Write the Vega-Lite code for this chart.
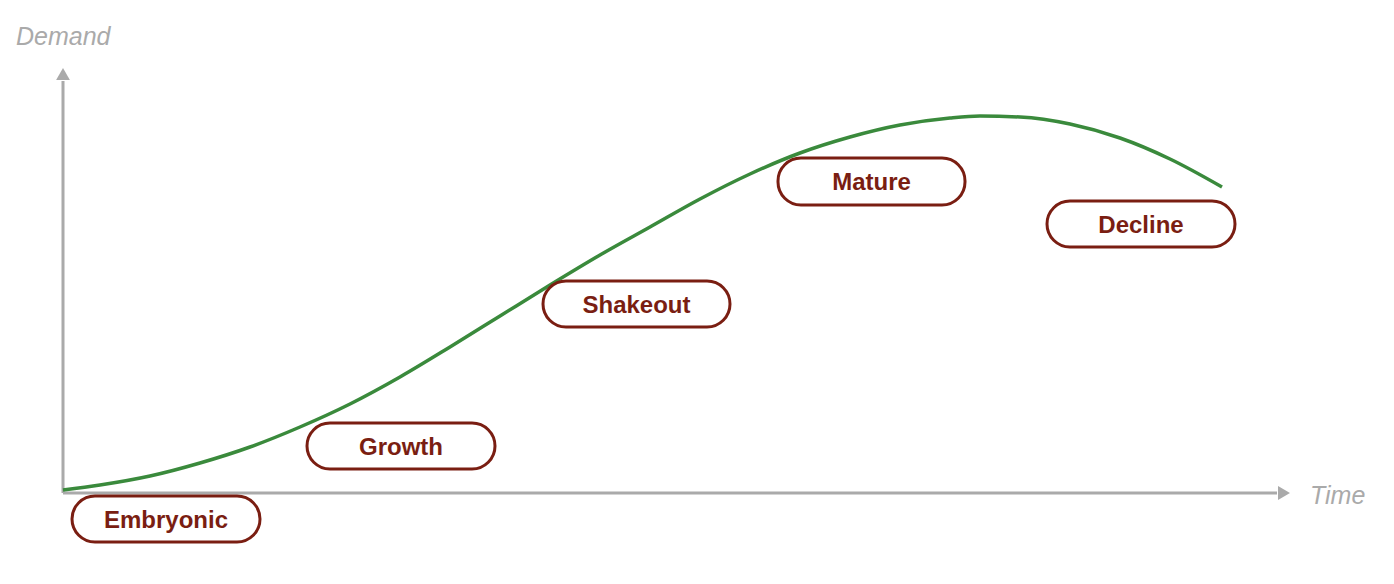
{
  "$schema": "https://vega.github.io/schema/vega-lite/v6.json",
  "width": 1394,
  "height": 584,
  "autosize": {"type": "fit", "contains": "padding"},
  "padding": 0,
  "background": "white",
  "config": {"view": {"stroke": null}},
  "datasets": {
    "curve": [
      {"t": 0, "d": 3}, {"t": 37, "d": 8}, {"t": 87, "d": 17}, {"t": 137, "d": 30},
      {"t": 187, "d": 46}, {"t": 237, "d": 66}, {"t": 287, "d": 89}, {"t": 337, "d": 116},
      {"t": 387, "d": 146}, {"t": 437, "d": 177}, {"t": 487, "d": 208}, {"t": 537, "d": 238},
      {"t": 587, "d": 266}, {"t": 637, "d": 294}, {"t": 687, "d": 319}, {"t": 737, "d": 340},
      {"t": 787, "d": 356}, {"t": 837, "d": 368}, {"t": 887, "d": 375}, {"t": 917, "d": 377},
      {"t": 957, "d": 376}, {"t": 1007, "d": 369}, {"t": 1057, "d": 355}, {"t": 1107, "d": 334},
      {"t": 1159, "d": 306}
    ],
    "axes": [
      {"name": "y", "x1": 0, "y1": 0, "x2": 0, "y2": 412},
      {"name": "x", "x1": 0, "y1": 0, "x2": 1214, "y2": 0}
    ],
    "arrows": [
      {"name": "y", "x": 0, "y": 419, "shape": "triangle-up"},
      {"name": "x", "x": 1221, "y": 0, "shape": "triangle-right"}
    ],
    "axisLabels": [
      {"label": "Demand", "x": -47, "y": 456},
      {"label": "Time", "x": 1247, "y": -3}
    ],
    "stages": [
      {"stage": "Embryonic", "x1": 9, "x2": 197, "y1": -49, "y2": -3, "cx": 103, "cy": -26},
      {"stage": "Growth", "x1": 244, "x2": 432, "y1": 24, "y2": 70, "cx": 338, "cy": 47},
      {"stage": "Shakeout", "x1": 480, "x2": 667, "y1": 166, "y2": 212, "cx": 573.5, "cy": 189},
      {"stage": "Mature", "x1": 715, "x2": 902, "y1": 288, "y2": 335, "cx": 808.5, "cy": 311.5},
      {"stage": "Decline", "x1": 984, "x2": 1172, "y1": 246, "y2": 292, "cx": 1078, "cy": 269}
    ]
  },
  "layer": [
    {
      "data": {"name": "axes"},
      "mark": {"type": "rule", "color": "#aaaaaa", "strokeWidth": 3},
      "encoding": {
        "x": {"field": "x1", "type": "quantitative", "scale": {"domain": [-63, 1331], "nice": false, "zero": false}, "axis": null},
        "y": {"field": "y1", "type": "quantitative", "scale": {"domain": [-91, 493], "nice": false, "zero": false}, "axis": null},
        "x2": {"field": "x2"},
        "y2": {"field": "y2"}
      }
    },
    {
      "data": {"name": "arrows"},
      "mark": {"type": "point", "filled": true, "color": "#aaaaaa", "opacity": 1, "size": 190},
      "encoding": {
        "x": {"field": "x", "type": "quantitative"},
        "y": {"field": "y", "type": "quantitative"},
        "shape": {"field": "shape", "type": "nominal", "scale": null}
      }
    },
    {
      "data": {"name": "axisLabels"},
      "mark": {"type": "text", "align": "left", "baseline": "middle", "font": "Liberation Sans", "fontStyle": "italic", "fontSize": 25, "color": "#aaaaaa"},
      "encoding": {
        "x": {"field": "x", "type": "quantitative"},
        "y": {"field": "y", "type": "quantitative"},
        "text": {"field": "label"}
      }
    },
    {
      "data": {"name": "curve"},
      "mark": {"type": "line", "interpolate": "monotone", "color": "#3a8a3c", "strokeWidth": 3.5},
      "encoding": {
        "x": {"field": "t", "type": "quantitative"},
        "y": {"field": "d", "type": "quantitative"}
      }
    },
    {
      "data": {"name": "stages"},
      "mark": {"type": "rect", "fill": "white", "stroke": "#7a1e12", "strokeWidth": 3, "cornerRadius": 23},
      "encoding": {
        "x": {"field": "x1", "type": "quantitative"},
        "x2": {"field": "x2"},
        "y": {"field": "y1", "type": "quantitative"},
        "y2": {"field": "y2"}
      }
    },
    {
      "data": {"name": "stages"},
      "mark": {"type": "text", "align": "center", "baseline": "middle", "dy": 1.5, "font": "Liberation Sans", "fontWeight": "bold", "fontSize": 24, "color": "#7a1e12"},
      "encoding": {
        "x": {"field": "cx", "type": "quantitative"},
        "y": {"field": "cy", "type": "quantitative"},
        "text": {"field": "stage"}
      }
    }
  ]
}
